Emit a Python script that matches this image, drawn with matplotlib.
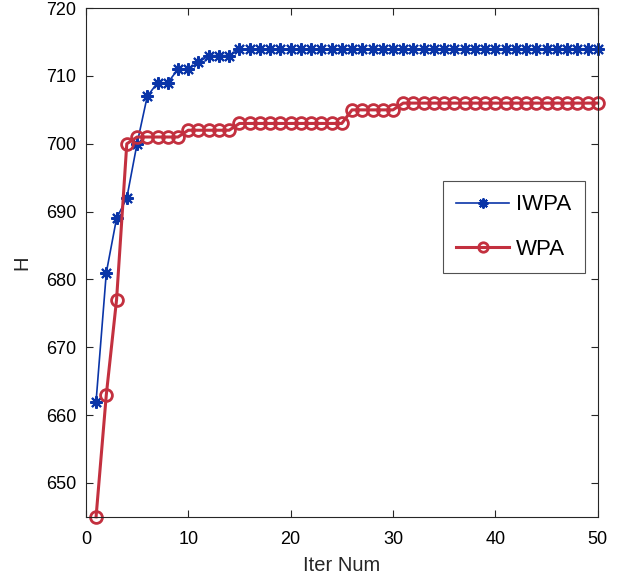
import numpy as np
import matplotlib
matplotlib.use('Agg')
from matplotlib import pyplot as plt

plt.rcParams['font.family'] = ['Liberation Sans', 'DejaVu Sans']

iters = np.arange(1, 51)
iwpa = [662, 681, 689, 692, 700, 707, 709, 709, 711, 711,
        712, 713, 713, 713] + [714] * 36
wpa = [645, 663, 677, 700, 701, 701, 701, 701, 701] + [702] * 5 + [703] * 11 + [705] * 5 + [706] * 20

fig = plt.figure(figsize=(6.22, 5.82), dpi=100)
ax = fig.add_axes([0.138, 0.112, 0.823, 0.874])

ax.plot(iters, iwpa, color='#0a35a8', lw=1.2, marker=(8, 2, 0), ms=9, mew=1.5, label='IWPA', clip_on=False)
ax.plot(iters, wpa, color='#c3303f', lw=2.2, marker='o', ms=8.5, mew=2, mfc='none', label='WPA', clip_on=False)

ax.set_xlim(0, 50)
ax.set_ylim(645, 720)
ax.set_xticks([0, 10, 20, 30, 40, 50])
ax.set_yticks(np.arange(650, 721, 10))
ax.tick_params(direction='in', top=True, right=True, labelsize=13, color='#262626', length=5)
ax.tick_params(axis='x', pad=10)
ax.tick_params(axis='y', pad=7)
for s in ax.spines.values():
    s.set_color('#262626')
    s.set_linewidth(0.8)
ax.set_xlabel('Iter Num', fontsize=14.5, color='#262626', labelpad=6)
ax.set_ylabel('H', fontsize=14.5, color='#262626', labelpad=10)

leg = ax.legend(loc='upper left', bbox_to_anchor=(0.697, 0.66), borderaxespad=0, fontsize=16,
                frameon=True, fancybox=False, edgecolor='#262626', handlelength=2.4,
                handletextpad=0.3, borderpad=0.6, labelspacing=1.05, markerscale=0.8)
leg.get_frame().set_linewidth(0.8)

plt.savefig('out.png', dpi=100)
